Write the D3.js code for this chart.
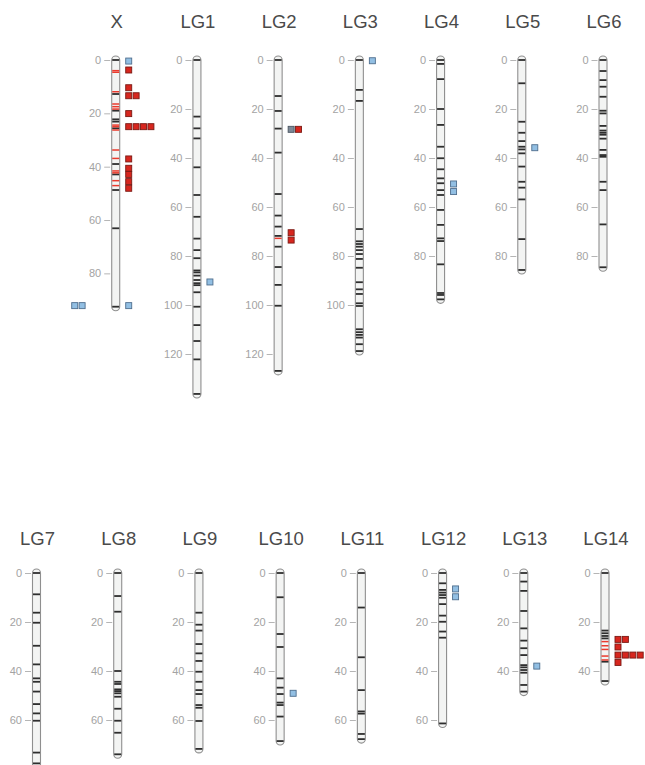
<!DOCTYPE html>
<html><head><meta charset="utf-8">
<script src="https://cdn.jsdelivr.net/npm/d3@7"></script>
<style>body{margin:0;background:#fff} svg{display:block;-webkit-font-smoothing:antialiased} text{-webkit-font-smoothing:antialiased}</style>
</head><body><svg id="c" width="645" height="765"></svg>
<script>
// ---------- DATA ----------
const chromNames = ["X","LG1","LG2","LG3","LG4","LG5","LG6","LG7","LG8","LG9","LG10","LG11","LG12","LG13","LG14"];
const chromLengths = [92.5,136.3,126.9,118.8,97.7,85.7,84.6,79.5,74.0,71.8,68.6,67.8,61.4,48.4,44.1];

const bandsX    = [0,12.75,19.0,22.25,23.1,25.6,39.0,42.9,48.75,63.1,92.5];
const bandsLG1  = [0,23.1,27.9,32.0,43.8,55.1,64.0,72.9,77.6,80.9,85.9,86.7,88.0,89.8,91.1,91.9,94.8,100.7,108.2,114.7,122.2,136.3];
const bandsLG2  = [0,14.7,20.8,28.0,37.8,54.7,63.5,68.0,71.8,76.2,84.5,91.8,100.3,126.9];
const bandsLG3  = [0,12.2,16.7,69.0,74.0,75.1,76.2,77.6,79.2,81.2,84.8,90.7,93.6,95.5,99.3,100.4,109.9,111.1,112.2,113.3,116.0,118.8];
const bandsLG4  = [0,1.6,7.8,20.0,26.5,35.4,40.1,44.6,48.3,50.3,53.1,55.1,61.2,67.3,72.8,73.9,83.4,95.1,95.9,97.7];
const bandsLG5  = [0,9.5,25.2,29.7,33.1,35.4,36.5,38.1,43.5,49.7,52.1,56.9,73.1,85.7];
const bandsLG6  = [0,4.5,8.2,10.9,15.0,20.7,21.8,26.9,28.8,29.7,30.5,32.1,36.7,38.8,39.5,49.7,53.1,67.1,84.6];
const bandsLG7  = [0,8.7,16.2,20.3,29.7,37.3,43.0,44.4,48.4,53.5,57.3,60.3,73.3,77.7];
const bandsLG8  = [0,9.4,15.8,40.0,44.4,45.3,47.5,48.2,49.1,50.5,55.4,60.3,65.2,74.0];
const bandsLG9  = [0,16.2,21.1,23.5,29.0,32.8,35.9,40.3,44.4,47.8,49.4,53.9,55.0,60.4,71.8];
const bandsLG10 = [0,9.9,24.9,30.2,43.0,46.8,49.4,52.9,53.9,58.6,68.6];
const bandsLG11 = [0,14.1,34.4,47.8,56.5,57.4,65.7,67.8];
const bandsLG12 = [0,4.2,6.9,8.0,9.0,10.1,12.7,17.4,19.9,23.9,26.4,61.4];
const bandsLG13 = [0,3.5,7.3,15.5,22.6,27.6,30.7,33.5,37.6,38.5,39.6,40.7,45.7,48.4];
const bandsLG14 = [0,23.5,24.6,25.7,26.7,36.2,44.1];
const blackBands = [bandsX,bandsLG1,bandsLG2,bandsLG3,bandsLG4,bandsLG5,bandsLG6,bandsLG7,bandsLG8,bandsLG9,bandsLG10,bandsLG11,bandsLG12,bandsLG13,bandsLG14];

const redBandsX    = [4.0,4.6,11.9,16.5,17.5,18.4,24.4,25.0,26.25,33.75,36.9,41.6,42.3,45.25,47.1];
const redBandsLG2  = [72.8];
const redBandsLG14 = [28.0,29.7,31.2,33.9,35.5];
const redBandChroms = ["X","LG2","LG14"];
const redBands = [redBandsX,redBandsLG2,redBandsLG14];

// QTL squares
const qtlChrom = ["X","X","X","X","X","X","X","X","X","X","X","X","X","LG1","LG2","LG2","LG2","LG2","LG3","LG4","LG4","LG5","LG10","LG12","LG12","LG13","LG14","LG14","LG14","LG14"];
const qtlPos   = [0.4,3.75,10.4,13.4,20.1,25.0,37.1,40.6,42.9,45.6,48.1,92.1,92.1,90.6,28.3,28.3,70.5,73.5,0.3,50.6,53.7,35.8,49.1,6.5,9.7,38.0,27.1,30.2,33.5,36.5];
const qtlType  = ["blue","red","red","red","red","red","red","red","red","red","red","blue","blue","blue","gray","red","red","red","blue","blue","blue","blue","blue","blue","blue","blue","red","red","red","red"];
const qtlCount = [1,1,1,2,1,4,1,1,1,1,1,1,2,1,1,1,1,1,1,1,1,1,1,1,1,1,2,1,4,1];
const qtlSide  = ["right","right","right","right","right","right","right","right","right","right","right","right","left","right","right","right","right","right","right","right","right","right","right","right","right","right","right","right","right","right"];

// ---------- LAYOUT ----------
const svg = d3.select("#c");
const FONT = "'Liberation Sans', Arial, Helvetica, sans-serif";
const slotX = d3.scalePoint().domain(d3.range(8)).range([36.5, 605]);
const rowTop = [60, 573];
const titleY = [28, 545];
const pxPerUnit = 2.45, pxPerUnitX = 2.667;
const chromW = 8;
const fills = {blue:"#92bfe3", red:"#d7261e", gray:"#7d8997"};
const strokes = {blue:"#4f6e8e", red:"#7a1a14", gray:"#4a5561"};

const info = chromNames.map((name, i) => {
  const row = i < 7 ? 0 : 1;
  const slot = i < 7 ? i + 1 : i - 7;
  const cx = slotX(slot) + (row === 0 ? -2 : 0);
  const k = name === "X" ? pxPerUnitX : pxPerUnit;
  const y = d3.scaleLinear().domain([0, 100]).range([rowTop[row], rowTop[row] + 100 * k]);
  return {name, i, row, cx, y, len: chromLengths[i]};
});
const byName = Object.fromEntries(info.map(d => [d.name, d]));

info.forEach(c => {
  const g = svg.append("g");
  g.append("text").attr("x", c.cx + 1).attr("y", titleY[c.row])
    .attr("text-anchor", "middle").attr("font-family", FONT).attr("font-size", 18.5)
    .attr("fill", "#4a4a4a").text(c.name);
  const ticks = d3.range(0, c.len + 1e-6, 20);
  const ax = g.append("g").attr("transform", `translate(${c.cx - chromW / 2 - 1.5},0)`)
    .call(d3.axisLeft(c.y).tickValues(ticks).tickSize(6).tickPadding(3));
  ax.select(".domain").remove();
  ax.selectAll(".tick line").attr("stroke", "#b5b5b5");
  ax.selectAll(".tick text").attr("fill", "#a3a3a3").attr("font-family", FONT).attr("font-size", 11);
  g.append("rect").attr("x", c.cx - chromW / 2).attr("width", chromW)
    .attr("y", c.y(0) - 4).attr("height", c.y(c.len) - c.y(0) + 8)
    .attr("rx", 4).attr("ry", 4)
    .attr("fill", "#f3f4f3").attr("stroke", "#8f8f8f").attr("stroke-width", 1.1);
  g.selectAll("line.band").data(blackBands[c.i]).join("line").attr("class", "band")
    .attr("x1", c.cx - chromW / 2 + 0.5).attr("x2", c.cx + chromW / 2 - 0.5)
    .attr("y1", d => c.y(d)).attr("y2", d => c.y(d))
    .attr("stroke", "#2e2e2e").attr("stroke-width", 1.8);
  const ri = redBandChroms.indexOf(c.name);
  if (ri >= 0) {
    g.selectAll("line.red").data(redBands[ri]).join("line").attr("class", "red")
      .attr("x1", c.cx - chromW / 2 + 0.5).attr("x2", c.cx + chromW / 2 - 0.5)
      .attr("y1", d => c.y(d)).attr("y2", d => c.y(d))
      .attr("stroke", "#ea3b2e").attr("stroke-width", 1.5);
  }
});

const sq = 6, step = 7.4;
const used = {};
const squares = [];
qtlChrom.forEach((ch, j) => {
  const key = ch + "|" + qtlPos[j] + "|" + qtlSide[j];
  const start = used[key] || 0;
  for (let n = 0; n < qtlCount[j]; n++) {
    squares.push({ch, pos: qtlPos[j], type: qtlType[j], side: qtlSide[j], idx: start + n});
  }
  used[key] = start + qtlCount[j];
});
svg.append("g").selectAll("rect").data(squares).join("rect")
  .attr("x", d => {
    const c = byName[d.ch];
    return d.side === "right" ? c.cx + 10 + d.idx * step : c.cx - 44 + d.idx * step;
  })
  .attr("y", d => byName[d.ch].y(d.pos) - sq / 2)
  .attr("width", sq).attr("height", sq)
  .attr("fill", d => fills[d.type]).attr("stroke", d => strokes[d.type]).attr("stroke-width", 0.9);
</script>
</body></html>
